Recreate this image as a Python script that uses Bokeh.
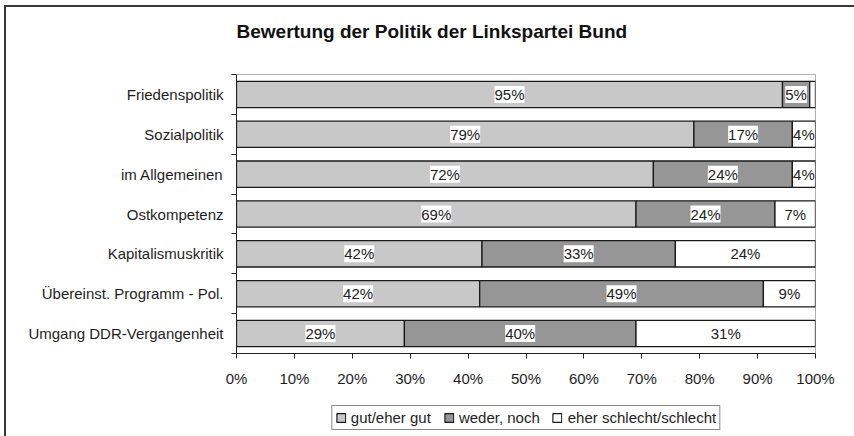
from bokeh.plotting import figure
from bokeh.models import (ColumnDataSource, Range1d, FixedTicker, LabelSet, Legend, LegendItem,
                          Title, LinearAxis)
from bokeh.layouts import column
from bokeh.core.properties import value
from bokeh.embed import file_html
from bokeh.resources import INLINE

# ---- data ----
categories = ["Friedenspolitik", "Sozialpolitik", "im Allgemeinen", "Ostkompetenz",
              "Kapitalismuskritik", "Übereinst. Programm - Pol.", "Umgang DDR-Vergangenheit"]
series_names = ["gut/eher gut", "weder, noch", "eher schlecht/schlecht"]
gut = [94.3, 79, 72, 69, 42.4, 42, 29]
weder = [4.7, 17, 24, 24, 33.4, 49, 40]
schlecht = [1, 4, 4, 7, 24.2, 9, 31]
gut_labels = ["95%", "79%", "72%", "69%", "42%", "42%", "29%"]
weder_labels = ["5%", "17%", "24%", "24%", "33%", "49%", "40%"]
schlecht_labels = ["", "4%", "4%", "7%", "24%", "9%", "31%"]
x_ticks = [0, 10, 20, 30, 40, 50, 60, 70, 80, 90, 100]
x_tick_labels = ["0%", "10%", "20%", "30%", "40%", "50%", "60%", "70%", "80%", "90%", "100%"]
title_text = "Bewertung der Politik der Linkspartei Bund"

colors = ["#c8c8c8", "#969696", "#ffffff"]
FONT = "Liberation Sans"
n = len(categories)
y_pos = [n - i - 0.5 for i in range(n)]

src = ColumnDataSource(dict(y=y_pos, gut=gut, weder=weder, schlecht=schlecht))

p = figure(width=848, height=382, x_range=Range1d(0, 100), y_range=Range1d(0, n),
           output_backend="svg", toolbar_location=None,
           min_border_left=230, min_border_right=39, min_border_top=67, min_border_bottom=35)

renderers = p.hbar_stack(["gut", "weder", "schlecht"], y="y", height=0.66, source=src,
                         fill_color=colors, line_color="#1a1a1a", line_width=1.3)

# bar labels
lx, ly, lt = [], [], []
for i in range(n):
    start = 0.0
    for vals, labs in ((gut, gut_labels), (weder, weder_labels), (schlecht, schlecht_labels)):
        if labs[i]:
            lx.append(start + vals[i] / 2.0)
            ly.append(y_pos[i])
            lt.append(labs[i])
        start += vals[i]
lab_src = ColumnDataSource(dict(x=lx, y=ly, text=lt))
p.add_layout(LabelSet(x="x", y="y", text="text", source=lab_src, text_align="center",
                      text_baseline="middle", text_font=value(FONT), text_font_size=value("15px"),
                      text_color="#222222", background_fill_color="white"))

# axes
p.xgrid.grid_line_color = None
p.ygrid.grid_line_color = None
p.outline_line_color = "#b0b0b0"

p.xaxis.ticker = FixedTicker(ticks=x_ticks)
p.xaxis.major_label_overrides = {t: l for t, l in zip(x_ticks, x_tick_labels)}
p.xaxis.major_tick_out = 5
p.xaxis.major_tick_in = 0
p.xaxis.major_label_standoff = 11

p.yaxis.ticker = FixedTicker(ticks=y_pos, minor_ticks=list(range(n + 1)))
p.yaxis.major_label_overrides = {y: c for y, c in zip(y_pos, categories)}
p.yaxis.major_tick_out = 0
p.yaxis.major_tick_in = 0
p.yaxis.minor_tick_out = 5
p.yaxis.minor_tick_in = 0
p.yaxis.major_label_standoff = 8

for ax in (p.xaxis, p.yaxis):
    ax.axis_line_color = "#222222"
    ax.major_tick_line_color = "#222222"
    ax.major_label_text_font = FONT
    ax.major_label_text_font_size = "15px"
    ax.major_label_text_color = "#1e1e1e"
p.xaxis.minor_tick_line_color = None
p.yaxis.minor_tick_line_color = "#222222"

# spacer above the frame, then the title
p.title.text = ""
spacer = LinearAxis(ticker=FixedTicker(ticks=[]), axis_line_color=None,
                    major_tick_line_color=None, minor_tick_line_color=None,
                    major_tick_out=0, major_tick_in=0, minor_tick_out=0, minor_tick_in=0,
                    major_label_standoff=0, axis_label=" ", axis_label_text_font_size="10px",
                    axis_label_standoff=19, axis_label_text_alpha=0)
p.add_layout(spacer, "above")
p.add_layout(Title(text=title_text, align="left", text_font=FONT, text_font_size="19px",
                   text_font_style="bold", text_color="#111111", standoff=0), "above")

# legend strip (separate small figure underneath, legend inside its frame)
lg = figure(width=848, height=47, x_range=Range1d(0, 1), y_range=Range1d(0, 1),
            output_backend="svg", toolbar_location=None, x_axis_location=None,
            y_axis_location=None, min_border_left=230, min_border_right=39,
            min_border_top=16, min_border_bottom=0)
lg.outline_line_color = None
for g in lg.grid:
    g.visible = False
keys = [lg.hbar(y=[-5], right=[1], height=0.5, fill_color=c, line_color="#1a1a1a", line_width=1.2)
        for c in colors]
legend = Legend(items=[LegendItem(label=s, renderers=[r]) for s, r in zip(series_names, keys)],
                orientation="horizontal", location="top_center", margin=0, padding=3,
                spacing=12, label_standoff=5, glyph_width=11, glyph_height=11, label_height=17,
                label_text_font=FONT, label_text_font_size="15px", label_text_color="#1e1e1e",
                border_line_color="#111111", border_line_width=1, background_fill_alpha=1.0)
lg.add_layout(legend, "center")

layout = column(p, lg, spacing=0)
layout.styles = {"margin-left": "4px", "margin-top": "5px",
                 "border-left": "2px solid #3a3a3a", "border-top": "2px solid #3a3a3a"}

open("out.html", "w").write(file_html(layout, INLINE))
